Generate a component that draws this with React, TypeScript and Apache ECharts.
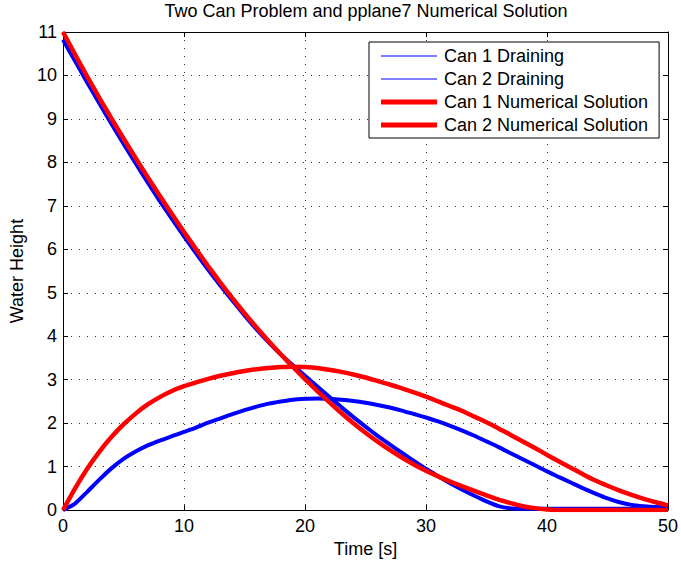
import React, { useEffect, useRef } from "react";
import * as echarts from "echarts";

const time = [
  0, 1, 2, 3, 4, 5, 6, 7, 8, 9, 10, 11, 12, 13, 14, 15, 16, 17, 18, 19, 20, 21, 22, 23, 24, 25,
  26, 27, 28, 29, 30, 31, 32, 33, 34, 35, 36, 37, 38, 39, 40, 41, 42, 43, 44, 45, 46, 47, 48, 49, 50,
];

const can1Draining = [
  10.82, 10.33, 9.84, 9.36, 8.89, 8.43, 7.98, 7.54, 7.11, 6.7, 6.3, 5.91, 5.53, 5.17, 4.82, 4.48,
  4.16, 3.86, 3.58, 3.33, 3.09, 2.85, 2.61, 2.37, 2.14, 1.92, 1.71, 1.51, 1.32, 1.13, 0.95, 0.78,
  0.62, 0.47, 0.33, 0.2, 0.09, 0.04, 0.03, 0.03, 0.03, 0.03, 0.03, 0.03, 0.03, 0.03, 0.03, 0.03,
  0.03, 0.03, 0.03,
];

const can2Draining = [
  0, 0.15, 0.42, 0.7, 0.96, 1.18, 1.35, 1.49, 1.6, 1.7, 1.8, 1.9, 2.01, 2.11, 2.21, 2.3, 2.38, 2.45,
  2.5, 2.54, 2.56, 2.57, 2.56, 2.54, 2.51, 2.47, 2.42, 2.36, 2.29, 2.21, 2.13, 2.04, 1.94, 1.83, 1.71,
  1.58, 1.45, 1.31, 1.17, 1.03, 0.89, 0.76, 0.63, 0.5, 0.38, 0.27, 0.18, 0.12, 0.09, 0.07, 0.06,
];

const can1Numerical = [
  11, 10.48, 9.975, 9.485, 9.01, 8.55, 8.1, 7.66, 7.23, 6.81, 6.4, 6.0, 5.61, 5.235, 4.875, 4.53,
  4.2, 3.885, 3.585, 3.295, 3.015, 2.745, 2.485, 2.235, 2.0, 1.78, 1.575, 1.385, 1.21, 1.05, 0.905,
  0.775, 0.655, 0.545, 0.44, 0.34, 0.24, 0.16, 0.09, 0.045, 0.015, 0, 0, 0, 0, 0, 0, 0, 0, 0, 0,
];

const can2Numerical = [
  0, 0.5, 0.95, 1.34, 1.68, 1.97, 2.22, 2.43, 2.6, 2.74, 2.85, 2.94, 3.02, 3.09, 3.15, 3.2, 3.24,
  3.27, 3.29, 3.3, 3.29, 3.27, 3.23, 3.18, 3.12, 3.05, 2.97, 2.89, 2.8, 2.71, 2.61, 2.5, 2.39, 2.28,
  2.15, 2.02, 1.88, 1.73, 1.58, 1.43, 1.27, 1.12, 0.97, 0.82, 0.68, 0.56, 0.45, 0.35, 0.26, 0.18, 0.11,
];

const seriesNames = [
  "Can 1 Draining",
  "Can 2 Draining",
  "Can 1 Numerical Solution",
  "Can 2 Numerical Solution",
];

const FONT = "Liberation Sans, Arial, Helvetica, sans-serif";
const BLUE = "#0000ff";
const RED = "#ff0000";

// legend line samples: a thin or thick bar in the middle of a 56x14 box
const THIN_ICON = "path://M0 0L0.01 0Z M0 6.5H56V7.5H0Z M0 14L0.01 14Z";
const THICK_ICON = "path://M0 0L0.01 0Z M0 4.5H56V9.5H0Z M0 14L0.01 14Z";

function zip(ys: number[]) {
  return time.map((t, i) => [t, ys[i]]);
}

export default function App() {
  const ref = useRef<HTMLDivElement>(null);

  useEffect(() => {
    if (!ref.current) return;
    const chart = echarts.init(ref.current, undefined, { renderer: "svg" });

    const axisLine = { show: true, onZero: false, lineStyle: { color: "#000", width: 1 } };
    const axisTick = { show: true, inside: true, length: 5, lineStyle: { color: "#000", width: 1 } };
    const splitLine = { show: true, lineStyle: { color: "#333", width: 1, type: [1, 7] } };

    chart.setOption({
      animation: false,
      backgroundColor: "#fff",
      textStyle: { fontFamily: FONT },
      title: {
        text: "Two Can Problem and pplane7 Numerical Solution",
        left: 366,
        top: 2,
        padding: 0,
        textAlign: "center",
        textStyle: { fontSize: 18, fontWeight: "normal", color: "#000", fontFamily: FONT },
      },
      grid: { left: 63, right: 11, top: 32, bottom: 52, containLabel: false },
      legend: {
        orient: "vertical",
        left: 369,
        top: 42,
        padding: [5, 11, 4, 12],
        itemWidth: 56,
        itemHeight: 14,
        itemGap: 5,
        backgroundColor: "#fff",
        borderColor: "#000",
        borderWidth: 1,
        borderRadius: 0,
        textStyle: { fontSize: 18, color: "#000", fontFamily: FONT, padding: [0, 0, 0, 2] },
        data: [
          { name: seriesNames[0], icon: THIN_ICON, itemStyle: { color: BLUE, borderWidth: 0 } },
          { name: seriesNames[1], icon: THIN_ICON, itemStyle: { color: BLUE, borderWidth: 0 } },
          { name: seriesNames[2], icon: THICK_ICON, itemStyle: { color: RED, borderWidth: 0 } },
          { name: seriesNames[3], icon: THICK_ICON, itemStyle: { color: RED, borderWidth: 0 } },
        ],
      },
      xAxis: [
        {
          type: "value",
          min: 0,
          max: 50,
          interval: 10,
          position: "bottom",
          name: "Time [s]",
          nameLocation: "middle",
          nameGap: 28,
          nameTextStyle: { fontSize: 18, color: "#000", fontFamily: FONT },
          axisLine,
          axisTick,
          axisLabel: { fontSize: 18, color: "#000", margin: 7, fontFamily: FONT },
          splitLine,
        },
        {
          type: "value",
          min: 0,
          max: 50,
          interval: 10,
          position: "top",
          axisLine,
          axisTick,
          axisLabel: { show: false },
          splitLine: { show: false },
        },
      ],
      yAxis: [
        {
          type: "value",
          min: 0,
          max: 11,
          interval: 1,
          position: "left",
          name: "Water Height",
          nameLocation: "middle",
          nameGap: 35,
          nameTextStyle: { fontSize: 18, color: "#000", fontFamily: FONT },
          axisLine,
          axisTick,
          axisLabel: { fontSize: 18, color: "#000", margin: 6, fontFamily: FONT },
          splitLine,
        },
        {
          type: "value",
          min: 0,
          max: 11,
          interval: 1,
          position: "right",
          axisLine,
          axisTick,
          axisLabel: { show: false },
          splitLine: { show: false },
        },
      ],
      series: [
        {
          name: seriesNames[0],
          type: "line",
          data: zip(can1Draining),
          symbol: "none",
          smooth: 0.2,
          lineStyle: { color: BLUE, width: 4 },
          itemStyle: { color: BLUE },
          z: 2,
        },
        {
          name: seriesNames[1],
          type: "line",
          data: zip(can2Draining),
          symbol: "none",
          smooth: 0.2,
          lineStyle: { color: BLUE, width: 4 },
          itemStyle: { color: BLUE },
          z: 2,
        },
        {
          name: seriesNames[2],
          type: "line",
          data: zip(can1Numerical),
          symbol: "none",
          smooth: 0.2,
          lineStyle: { color: RED, width: 4.5 },
          itemStyle: { color: RED },
          z: 3,
        },
        {
          name: seriesNames[3],
          type: "line",
          data: zip(can2Numerical),
          symbol: "none",
          smooth: 0.2,
          lineStyle: { color: RED, width: 4.5 },
          itemStyle: { color: RED },
          z: 3,
        },
      ],
    });

    return () => chart.dispose();
  }, []);

  return (
    <div
      ref={ref}
      style={{ position: "fixed", left: 0, top: 0, width: 681, height: 563 }}
    />
  );
}
